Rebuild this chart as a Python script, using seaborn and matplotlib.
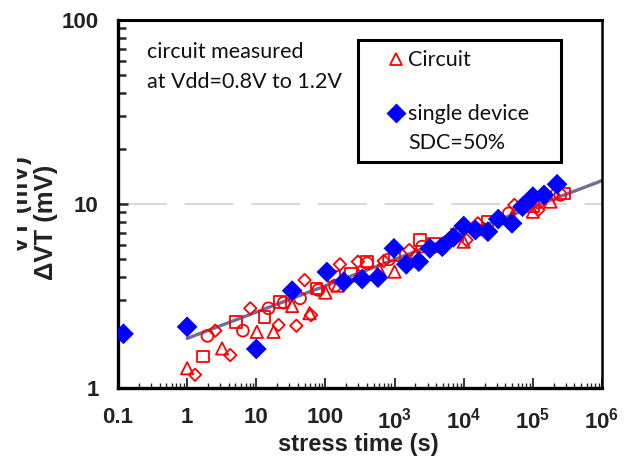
import numpy as np
import pandas as pd
import matplotlib
matplotlib.use("Agg")
import matplotlib.pyplot as plt
import seaborn as sns
from matplotlib.lines import Line2D
from matplotlib.patches import Rectangle
from matplotlib.ticker import FixedLocator, NullFormatter

# ---------------- data ----------------
tri_t = [1.0, 3.2, 10.2, 17.8, 33, 59, 100, 150, 300, 600, 1000, 2000, 4500, 1e4, 2e4, 5e4, 1e5, 1.8e5]
tri_v = [1.28, 1.64, 2.02, 2.02, 2.79, 2.55, 3.3, 3.6, 4.1, 4.4, 4.29, 5.3, 5.9, 6.24, 7.3, 8.5, 9.08, 10.3]

cir_t = [1.97, 6.4, 15, 25, 43, 79, 138, 400, 830, 2500, 6000, 1.5e4, 4.5e4, 1.2e5, 2.5e5]
cir_v = [1.92, 2.05, 2.71, 2.91, 3.07, 3.41, 3.6, 4.76, 5.0, 5.87, 6.3, 7.3, 8.9, 10.2, 11.2]

sq_t = [1.69, 5.1, 13.2, 22, 74, 132, 236, 400, 1000, 2350, 3700, 8000, 2.2e4, 1e5, 2.8e5]
sq_v = [1.48, 2.29, 2.44, 2.94, 3.48, 4.03, 4.2, 4.86, 5.3, 6.37, 6.1, 6.8, 8.0, 9.7, 11.4]

dia_t = [1.3, 2.55, 4.2, 8.2, 21, 38, 50, 62, 162, 295, 700, 1630, 6200, 1.1e4, 1.6e4, 5.4e4, 1.2e5, 2e5]
dia_v = [1.18, 2.05, 1.51, 2.71, 2.2, 2.18, 3.86, 2.49, 4.7, 4.86, 4.9, 5.62, 6.5, 6.37, 7.85, 9.88, 9.28, 11.2]

dev_t = [0.12, 1.0, 10, 33, 105, 184, 340, 575, 980, 1480, 2240, 3240, 4900, 7100, 1e4,
         1.48e4, 2.24e4, 3.16e4, 5e4, 7.1e4, 1e5, 1.45e5, 2.24e5]
dev_v = [1.97, 2.15, 1.63, 3.38, 4.27, 3.78, 3.91, 3.98, 5.74, 4.7, 4.86, 5.74, 5.86, 6.59, 7.59,
         7.22, 7.07, 8.28, 7.85, 9.67, 10.96, 11.2, 12.8]

fit_t = [1.0, 1e6]
fit_v = [1.86, 13.4]

x_ticks = [0.1, 1, 10, 100, 1e3, 1e4, 1e5, 1e6]
x_labels = ["0.1", "1", "10", "100", r"$\mathbf{10^3}$", r"$\mathbf{10^4}$", r"$\mathbf{10^5}$", r"$\mathbf{10^6}$"]
y_ticks = [1, 10, 100]
y_labels = ["1", "10", "100"]

# ---------------- style ----------------
sns.set_style("white")
ARIAL = ["Liberation Sans", "DejaVu Sans"]
CAL = ["Lato", "DejaVu Sans"]
plt.rcParams["font.family"] = ARIAL
plt.rcParams["mathtext.fontset"] = "custom"
plt.rcParams["mathtext.rm"] = "Liberation Sans"
plt.rcParams["mathtext.bf"] = "Liberation Sans:bold"

fig = plt.figure(figsize=(6.24, 4.73), dpi=100)
ax = fig.add_axes([118 / 624, 1 - 388 / 473, (602 - 118) / 624, (388 - 20) / 473])
ax.set_xscale("log")
ax.set_yscale("log")

# dashed reference line at 10
ax.axhline(10, color="#d9d9d9", lw=1.6, dashes=(22, 8), zorder=0)

# trend line
sns.lineplot(x=fit_t, y=fit_v, ax=ax, color="#6b6f9c", lw=2.4, zorder=2)

red = "#ff0000"
common = dict(ax=ax, color=red, facecolor="none", edgecolor=red, linewidth=1.3, zorder=3, legend=False)
sns.scatterplot(x=tri_t, y=tri_v, marker="^", s=78, **common)
sns.scatterplot(x=cir_t, y=cir_v, marker="o", s=72, **common)
sns.scatterplot(x=sq_t, y=sq_v, marker="s", s=70, **common)
sns.scatterplot(x=dia_t, y=dia_v, marker="D", s=40, **common)
sns.scatterplot(x=dev_t, y=dev_v, marker="D", s=112, color="#0000ff", edgecolor="none",
                linewidth=0, ax=ax, zorder=4, legend=False)

ax.set_xlim(0.1, 1e6)
ax.set_ylim(1, 100)

ax.xaxis.set_major_locator(FixedLocator(x_ticks))
ax.set_xticklabels(x_labels)
xminor = [m * 10.0 ** e for e in range(-1, 6) for m in range(2, 10)]
ax.xaxis.set_minor_locator(FixedLocator(xminor))
ax.xaxis.set_minor_formatter(NullFormatter())
ax.yaxis.set_major_locator(FixedLocator(y_ticks))
ax.set_yticklabels(y_labels)
yminor = [m * 10.0 ** e for e in range(0, 2) for m in range(2, 10)]
ax.yaxis.set_minor_locator(FixedLocator(yminor))
ax.yaxis.set_minor_formatter(NullFormatter())

ax.tick_params(axis="x", which="major", direction="in", length=7, width=1.3, pad=14,
               labelsize=16, bottom=True)
ax.tick_params(axis="x", which="minor", direction="in", length=3.8, width=1.0, bottom=True)
ax.tick_params(axis="y", which="major", direction="in", length=7.5, width=1.8, pad=14,
               labelsize=16, left=True)
ax.tick_params(axis="y", which="minor", direction="in", length=6, width=1.8, left=True)
for lab in ax.get_xticklabels() + ax.get_yticklabels():
    lab.set_fontweight("bold")
    lab.set_color("#222222")

for side in ["left", "bottom", "top", "right"]:
    ax.spines[side].set_visible(True)
    ax.spines[side].set_color("black")
ax.spines["left"].set_linewidth(2.4)
ax.spines["bottom"].set_linewidth(2.4)
ax.spines["top"].set_linewidth(2.2)
ax.spines["right"].set_linewidth(1.8)

ax.set_xlabel("")
ax.set_ylabel("")
fig.text(358 / 624, 1 - 444 / 473, "stress time (s)", ha="center", va="center",
         fontsize=17, fontweight="bold", color="#222222")
fig.text(46 / 624, 1 - 222 / 473, "\u0394VT (mV)", ha="center", va="center", rotation=90,
         fontsize=18.5, fontweight="bold", color="#222222")
ghost = fig.text(21 / 624, 1 - 205 / 473, "VT (mV)", ha="center", va="center", rotation=90,
                 fontsize=18.5, fontweight="bold", color="#222222")
clip = Rectangle((17 / 624, 0), 14 / 624, 1, transform=fig.transFigure)
ghost.set_clip_path(clip)

# annotation
ax.text((147 - 118) / 484, 1 - (42 - 20) / 368, "circuit measured\nat Vdd=0.8V to 1.2V",
        transform=ax.transAxes, ha="left", va="top", fontsize=15.5, family=CAL,
        color="#111111", linespacing=1.6)

# legend
h_tri = Line2D([], [], marker="^", ls="none", markersize=8, markerfacecolor="none",
               markeredgecolor=red, markeredgewidth=1.3)
h_dev = Line2D([], [], marker="D", ls="none", markersize=10.5, markerfacecolor="#0000ff",
               markeredgecolor="none")
h_none = Line2D([], [], ls="none")
LFS = 15.5
leg = ax.legend([h_tri, h_none, h_dev, h_none],
                ["Circuit", " ", "single device    ", "SDC=50%"],
                loc="upper left", bbox_to_anchor=((358 - 118) / 484, 1 - (40 - 20) / 368),
                frameon=True, fancybox=False, edgecolor="black", framealpha=1,
                prop={"family": CAL, "size": LFS}, labelspacing=0.42, handlelength=2.65,
                handleheight=0.5, handletextpad=-0.76, borderpad=0.45, borderaxespad=0)
leg.get_frame().set_linewidth(2.2)
texts = leg.get_texts()
for t in texts:
    t.set_color("#111111")
texts[1].set_fontsize(8)

fig.savefig("out.png", dpi=100)
